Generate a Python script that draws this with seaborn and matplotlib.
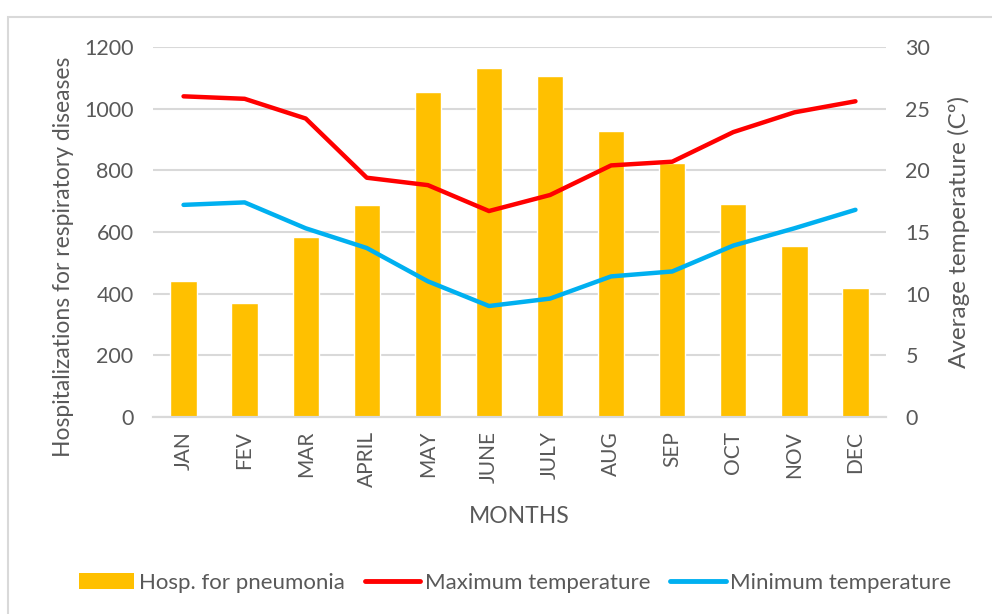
import numpy as np
import pandas as pd
import matplotlib.pyplot as plt
import seaborn as sns
from matplotlib.patches import Rectangle
from matplotlib.lines import Line2D
from matplotlib.patches import Patch

# Data
months = ['JAN', 'FEV', 'MAR', 'APRIL', 'MAY', 'JUNE', 'JULY', 'AUG', 'SEP', 'OCT', 'NOV', 'DEC']
hosp_pneumonia = [441, 370, 584, 688, 1054, 1132, 1106, 928, 824, 691, 555, 418]
max_temp = [26.0, 25.8, 24.2, 19.4, 18.8, 16.7, 18.0, 20.4, 20.7, 23.1, 24.7, 25.6]
min_temp = [17.2, 17.4, 15.3, 13.7, 11.0, 9.0, 9.6, 11.4, 11.8, 13.9, 15.3, 16.8]

bar_color = '#FFC000'
max_color = '#FF0000'
min_color = '#00B0F0'
text_color = '#595959'
grid_color = '#D9D9D9'

sns.set_style("white")
plt.rcParams['font.family'] = ['Lato', 'DejaVu Sans']

df = pd.DataFrame({'month': months, 'hosp': hosp_pneumonia,
                   'tmax': max_temp, 'tmin': min_temp})
df['pos'] = np.arange(len(months))

fig = plt.figure(figsize=(9.92, 6.14), dpi=100)
ax1 = fig.add_axes([153/992, 1 - 417/614, (886 - 153)/992, (417 - 47)/614])

# chart frame
fig.patches.append(Rectangle((8/992, -0.1), 1.2, 1 - 17/614 + 0.1, transform=fig.transFigure,
                             fill=False, edgecolor='#D9D9D9', linewidth=1.5, zorder=0))

sns.barplot(data=df, x='month', y='hosp', ax=ax1, color=bar_color, width=0.43,
            saturation=1, zorder=2)
ax1.set_xlim(-0.5, 11.5)
ax1.set_ylim(0, 1200)
ax1.set_yticks(range(0, 1201, 200))
ax1.yaxis.grid(True, color=grid_color, linewidth=1.5, zorder=0)
ax1.set_axisbelow(True)
ax1.set_ylabel('Hospitalizations for respiratory diseases', fontsize=16.5, color=text_color)
ax1.yaxis.set_label_coords(-0.108, 0.432)
ax1.set_xlabel('MONTHS', fontsize=16.5, color=text_color)
ax1.xaxis.set_label_coords(0.5, -0.24)
ax1.tick_params(axis='x', rotation=90, labelsize=15, colors=text_color, length=0, pad=10)
ax1.tick_params(axis='y', labelsize=15.5, colors=text_color, length=0, pad=14)

ax2 = ax1.twinx()
sns.lineplot(x=df['pos'], y=df['tmax'], ax=ax2, color=max_color, linewidth=3.2,
             solid_capstyle='round', solid_joinstyle='round')
sns.lineplot(x=df['pos'], y=df['tmin'], ax=ax2, color=min_color, linewidth=3.2,
             solid_capstyle='round', solid_joinstyle='round')
ax2.set_ylim(0, 30)
ax2.set_yticks(range(0, 31, 5))
ax2.set_xlim(-0.5, 11.5)
ax2.set_ylabel('Average temperature (Cº)', fontsize=17.5, color=text_color)
ax2.yaxis.set_label_coords(1.085, 0.5)
ax2.tick_params(axis='y', labelsize=15.5, colors=text_color, length=0, pad=14)

for ax in (ax1, ax2):
    for side in ('top', 'left', 'right'):
        ax.spines[side].set_visible(False)
    ax.spines['bottom'].set_color(grid_color)
    ax.spines['bottom'].set_linewidth(1.5)

handles = [Patch(facecolor=bar_color, edgecolor='none'),
           Line2D([0], [0], color=max_color, linewidth=3.5),
           Line2D([0], [0], color=min_color, linewidth=3.5)]
labels = ['Hosp. for pneumonia', 'Maximum temperature', 'Minimum temperature']
fig.legend(handles, labels, loc='center', bbox_to_anchor=(515/992, 1 - 583/614), ncol=3,
           frameon=False, fontsize=16, labelcolor=text_color, handlelength=2.5,
           handletextpad=0.2, columnspacing=0.9, handleheight=0.75)

fig.savefig('out.png', dpi=100)
